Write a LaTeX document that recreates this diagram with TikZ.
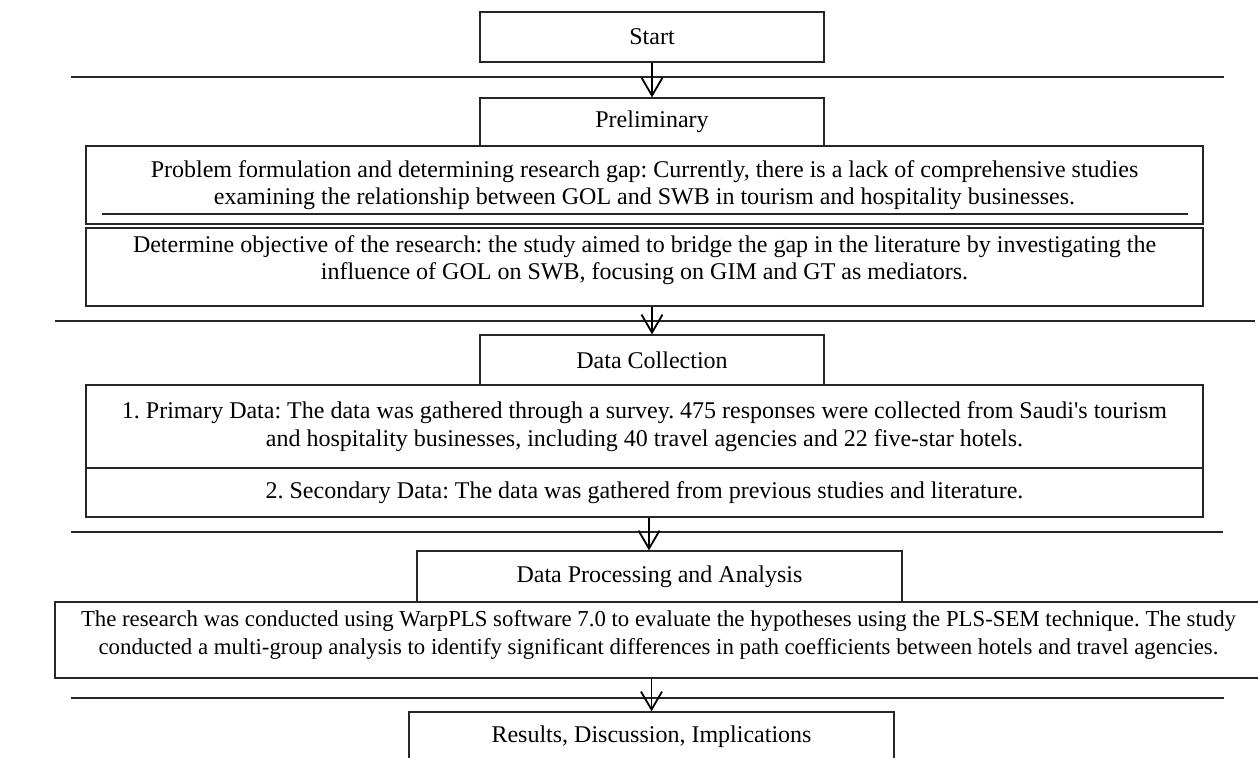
\documentclass[tikz,border=0pt]{standalone}
\usepackage{fontspec}
\setmainfont{Liberation Serif}
\usetikzlibrary{arrows.meta}
\frenchspacing
\begin{document}
\begin{tikzpicture}[x=0.5pt,y=-0.5pt,
  box/.style={draw=black!85,line width=0.6pt,inner sep=0pt,align=center,
    font=\fontsize{12}{13.75}\selectfont},
  smallbox/.style={box,minimum width=172pt,minimum height=25pt},
  widebox/.style={box,minimum width=558.5pt},
  sep/.style={black!85,line width=0.6pt},
  flow/.style={line width=0.9pt,-{Straight Barb[length=9pt,width=10.5pt,line width=0.9pt]}}]
\clip (0,0) rectangle (1258,758);
% stages
\node[smallbox] (start) at (652,37) {Start};
\node[smallbox,minimum height=24pt] (prelim) at (652,122) {Preliminary};
\node[widebox,minimum height=39pt] (prob) at (644.5,185)
  {Problem formulation and determining research gap: Currently, there is a lack of comprehensive studies\\
   examining the relationship between GOL and SWB in tourism and hospitality businesses.};
\node[widebox,minimum height=39pt] (det) at (644.5,267)
  {Determine objective of the research: the study aimed to bridge the gap in the literature by investigating the\\
   influence of GOL on SWB, focusing on GIM and GT as mediators.\\[-4.5pt]};
\node[smallbox] (dc) at (652,360) {Data Collection};
\node[widebox,minimum height=41.5pt] (prim) at (644.5,426.5)
  {1. Primary Data: The data was gathered through a survey. 475 responses were collected from Saudi\textquotesingle s tourism\\
   and hospitality businesses, including 40 travel agencies and 22 five-star hotels.};
\node[widebox,minimum height=24.5pt] (sec) at (644.5,492.5)
  {2. Secondary Data: The data was gathered from previous studies and literature.};
\node[smallbox,minimum width=242.5pt,minimum height=25.5pt] (dp) at (659.5,576.5) {Data Processing and Analysis};
\node[box,minimum width=603.5pt,minimum height=38pt,font=\fontsize{11.4}{13.75}\selectfont] (ana) at (658.5,640)
  {The research was conducted using WarpPLS software 7.0 to evaluate the hypotheses using the PLS-SEM technique. The study\\
   conducted a multi-group analysis to identify significant differences in path coefficients between hotels and travel agencies.\\[-6pt]};
\node[smallbox,minimum width=242.5pt] (res) at (651.5,737) {Results, Discussion, Implications};
% separators
\draw[sep] (71,77) -- (1224,77);
\draw[sep] (55,321) -- (1255,321);
\draw[sep] (71,532) -- (1223,532);
\draw[sep] (71,698) -- (1224,698);
\draw[sep] (102,214) -- (1188,214);
% arrows
\coordinate (a3) at (649,0);
\draw[flow] (start) -- (prelim);
\draw[flow] (det.south -| dc.north) -- (dc.north);
\draw[flow] (sec.south -| a3) -- (dp.north -| a3);
\draw[flow] (ana.south -| res.north) -- (res.north);
\end{tikzpicture}
\end{document}
